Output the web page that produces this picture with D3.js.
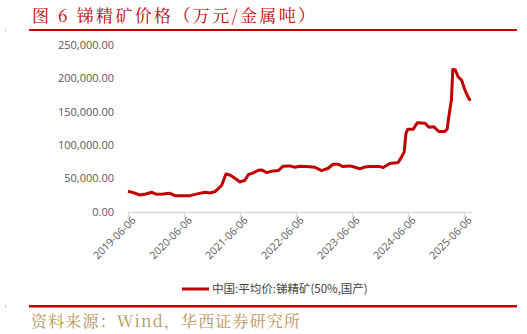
<!DOCTYPE html>
<html><head><meta charset="utf-8">
<script src="https://cdn.jsdelivr.net/npm/d3@7"></script>
<style>
html,body{margin:0;padding:0;background:#fff;}
svg{display:block;}
</style></head>
<body>
<script>
const titleText = "图 6 锑精矿价格（万元/金属吨）";
const sourceText = "资料来源：Wind，华西证券研究所";
const seriesName = "中国:平均价:锑精矿(50%,国产)";
const yTicks = [0, 50000, 100000, 150000, 200000, 250000];
const xTickLabels = ["2019-06-06","2020-06-06","2021-06-06","2022-06-06","2023-06-06","2024-06-06","2025-06-06"];
const dates = ["2019-06-06","2019-07-11","2019-08-23","2019-10-01","2019-11-08","2019-12-10","2020-01-20","2020-03-06","2020-04-07","2020-07-15","2020-09-07","2020-10-21","2020-11-22","2020-12-25","2021-01-20","2021-02-07","2021-03-06","2021-04-01","2021-05-04","2021-06-06","2021-07-08","2021-07-30","2021-08-31","2021-10-03","2021-10-25","2021-11-27","2021-12-29","2022-02-10","2022-03-14","2022-04-27","2022-05-29","2022-07-01","2022-08-14","2022-10-07","2022-11-20","2023-01-02","2023-02-03","2023-03-08","2023-04-09","2023-05-23","2023-06-26","2023-07-28","2023-08-30","2023-10-01","2023-12-06","2023-12-27","2024-02-09","2024-04-03","2024-04-25","2024-05-12","2024-05-23","2024-06-04","2024-07-10","2024-08-05","2024-09-24","2024-10-20","2024-11-21","2024-12-24","2025-02-01","2025-02-16","2025-02-27","2025-03-16","2025-03-25","2025-04-11","2025-04-28","2025-05-21","2025-06-12","2025-07-10","2025-07-21"];
const values = [31000,29000,25500,27000,29500,26500,27000,28000,24500,24500,27500,29500,28500,30500,36000,40500,57000,55500,50500,45000,47500,56000,58500,62500,63000,59000,61000,62000,68500,69000,67000,68500,68000,67000,62000,65500,71500,71500,68000,69000,67000,64500,67500,68000,68000,66500,72500,74000,82500,90000,117500,124000,124000,133500,133000,127000,127500,120500,120500,124000,143000,168000,213500,212500,202500,197500,182500,168500,168500];

const W = 527, H = 334;
const parse = d3.timeParse("%Y-%m-%d");
const data = dates.map((d,i)=>({date:parse(d), value:values[i]}));

const svg = d3.select("body").append("svg").attr("width",W).attr("height",H);

// title
svg.append("text").attr("x",32).attr("y",22)
  .attr("font-family","'Noto Serif CJK SC','Noto Sans CJK SC',serif")
  .attr("font-size",17).attr("fill","#c00000")
  .attr("textLength",283).attr("lengthAdjust","spacing").text(titleText);
svg.append("rect").attr("x",29).attr("y",29).attr("width",488).attr("height",2).attr("fill","#c00000");
svg.append("rect").attr("x",5).attr("y",29).attr("width",1).attr("height",3).attr("fill","#ccc");

const x = d3.scaleTime().domain([parse("2019-06-06"), parse("2025-06-06")]).range([128,464]);
const y = d3.scaleLinear().domain([0,250000]).range([212,45]);

// y axis labels
const fmt = d3.format(",.2f");
svg.append("g").selectAll("text").data(yTicks).join("text")
  .attr("x",114).attr("y",d=>y(d)).attr("dy","0.35em")
  .attr("text-anchor","end").attr("font-family","'Open Sans','Liberation Sans',sans-serif")
  .attr("font-size",11).attr("fill","#595959").text(d=>fmt(d));

// x axis
const xAxis = d3.axisBottom(x).tickValues(xTickLabels.map(parse)).tickSize(5).tickFormat(d3.timeFormat("%Y-%m-%d"));
const gx = svg.append("g").attr("transform","translate(0,212)").call(xAxis);
gx.select(".domain").attr("d","M128,0.5H472").attr("stroke","#d9d9d9").attr("stroke-width",1.5);
gx.selectAll(".tick line").attr("stroke","#d9d9d9").attr("stroke-width",1.5);
gx.selectAll(".tick text").attr("font-family","'Open Sans','Liberation Sans',sans-serif")
  .attr("font-size",10.5).attr("fill","#595959")
  .attr("text-anchor","end").attr("transform","translate(3,4) rotate(-45)").attr("dy","0.3em").attr("y",4).attr("x",0);

// line
const line = d3.line().x(d=>x(d.date)).y(d=>y(d.value));
svg.append("path").datum(data).attr("d",line).attr("fill","none")
  .attr("stroke","#c00000").attr("stroke-width",3).attr("stroke-linejoin","round");

// legend
svg.append("line").attr("x1",182).attr("x2",209).attr("y1",289).attr("y2",289).attr("stroke","#c00000").attr("stroke-width",3);
svg.append("text").attr("x",212).attr("y",289).attr("dy","0.35em")
  .attr("font-family","'Noto Sans CJK SC',sans-serif").attr("font-size",11.5).attr("fill","#404040").text(seriesName);

// bottom
svg.append("rect").attr("x",29).attr("y",305).attr("width",488).attr("height",2.5).attr("fill","#c00000");
svg.append("rect").attr("x",5).attr("y",305).attr("width",1).attr("height",3).attr("fill","#ccc");
svg.append("text").attr("x",31).attr("y",327)
  .attr("font-family","'Noto Serif CJK SC','Noto Sans CJK SC',serif")
  .attr("font-size",16).attr("fill","#b8935a")
  .attr("textLength",269).attr("lengthAdjust","spacing").text(sourceText);
</script>
</body></html>
